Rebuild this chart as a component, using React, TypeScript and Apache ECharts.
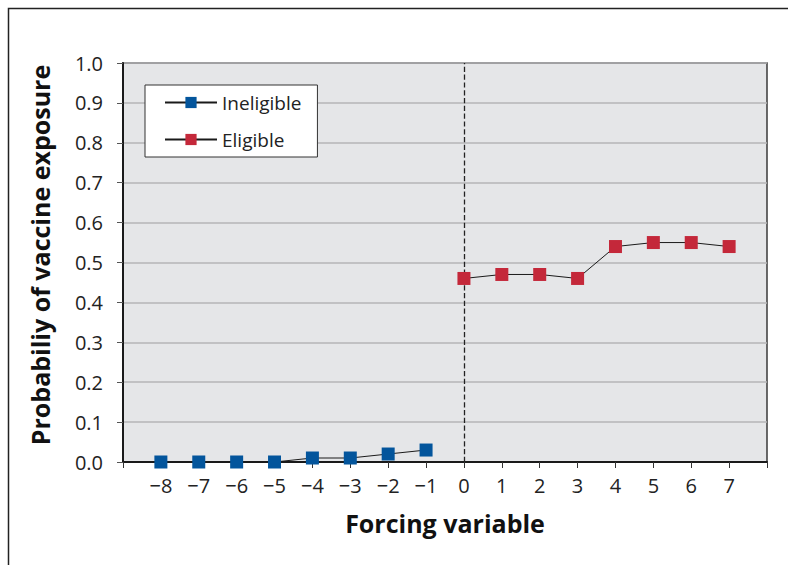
import React, { useEffect, useRef } from "react";
import * as echarts from "echarts";

const xValuesIneligible = [-8, -7, -6, -5, -4, -3, -2, -1];
const ineligibleValues = [0, 0, 0, 0, 0.01, 0.01, 0.02, 0.03];
const xValuesEligible = [0, 1, 2, 3, 4, 5, 6, 7];
const eligibleValues = [0.46, 0.47, 0.47, 0.46, 0.54, 0.55, 0.55, 0.54];
const seriesNames = ["Ineligible", "Eligible"];
const xAxisTitle = "Forcing variable";
const yAxisTitle = "Probabiliy of vaccine exposure";
const cutoff = 0;

const FONT = "'Open Sans', 'Noto Sans', sans-serif";

export default function App() {
  const ref = useRef<HTMLDivElement>(null);
  useEffect(() => {
    document.body.style.margin = "0";
    const chart = echarts.init(ref.current!, null, { renderer: "svg" });
    const option: any = {
      animation: false,
      backgroundColor: "#ffffff",
      textStyle: { fontFamily: FONT },
      grid: {
        left: 123,
        top: 63,
        right: 21,
        bottom: 103,
        show: true,
        backgroundColor: "#e5e6e8",
        borderColor: "#3a3a3a",
        borderWidth: 1.5,
      },
      legend: {
        orient: "vertical",
        left: 145,
        top: 85,
        backgroundColor: "#ffffff",
        borderColor: "#333",
        borderWidth: 1,
        borderRadius: 0,
        padding: [8, 16, 8, 19],
        itemWidth: 52,
        itemHeight: 14,
        itemGap: 18,
        textStyle: { fontFamily: FONT, fontSize: 19, color: "#222" },
        data: seriesNames,
      },
      xAxis: {
        type: "value",
        min: -9,
        max: 8,
        interval: 1,
        axisLine: { onZero: false, lineStyle: { color: "#1a1a1a", width: 2 } },
        axisTick: { show: true, length: 6, lineStyle: { color: "#333", width: 1 } },
        splitLine: { show: false },
        axisLabel: {
          margin: 13,
          fontSize: 20,
          color: "#222",
          fontFamily: FONT,
          formatter: (v: number) =>
            v === -9 || v === 8 ? "" : v < 0 ? "\u2212" + Math.abs(v) : String(v),
        },
      },
      yAxis: {
        type: "value",
        min: 0,
        max: 1,
        interval: 0.1,
        axisLine: { show: true, onZero: false, lineStyle: { color: "#1a1a1a", width: 2 } },
        axisTick: { show: true, length: 6, lineStyle: { color: "#555", width: 1 } },
        splitLine: { show: true, lineStyle: { color: "#b4b5b7", width: 1.5 } },
        axisLabel: {
          margin: 20,
          fontSize: 20,
          color: "#222",
          fontFamily: FONT,
          formatter: (v: number) => v.toFixed(1),
        },
      },
      graphic: [
        {
          type: "rect",
          shape: { x: 8.5, y: 8.5, width: 900, height: 700 },
          style: { fill: "none", stroke: "#222", lineWidth: 1.5 },
          z: -10,
          silent: true,
        },
        {
          type: "text",
          x: 445,
          y: 523,
          style: {
            text: xAxisTitle,
            font: `bold 25px ${FONT}`,
            fill: "#111",
            align: "center",
            verticalAlign: "middle",
          },
        },
        {
          type: "text",
          x: 40,
          y: 255,
          rotation: Math.PI / 2,
          style: {
            text: yAxisTitle,
            font: `bold 25px ${FONT}`,
            fill: "#111",
            align: "center",
            verticalAlign: "middle",
          },
        },
      ],
      series: [
        {
          name: seriesNames[0],
          type: "line",
          data: xValuesIneligible.map((x, i) => [x, ineligibleValues[i]]),
          symbol: "rect",
          symbolSize: 13,
          itemStyle: { color: "#03559c" },
          lineStyle: { color: "#1a1a1a", width: 1 },
          z: 3,
        },
        {
          name: seriesNames[1],
          type: "line",
          data: xValuesEligible.map((x, i) => [x, eligibleValues[i]]),
          symbol: "rect",
          symbolSize: 13,
          itemStyle: { color: "#c4283a" },
          lineStyle: { color: "#1a1a1a", width: 1 },
          z: 3,
          markLine: {
            silent: true,
            symbol: "none",
            label: { show: false },
            lineStyle: { color: "#222", type: "dashed", width: 1.3 },
            data: [{ xAxis: cutoff }],
            z: 2,
          },
        },
      ],
    };
    chart.setOption(option);
    return () => chart.dispose();
  }, []);
  return <div ref={ref} style={{ width: 788, height: 565 }} />;
}
